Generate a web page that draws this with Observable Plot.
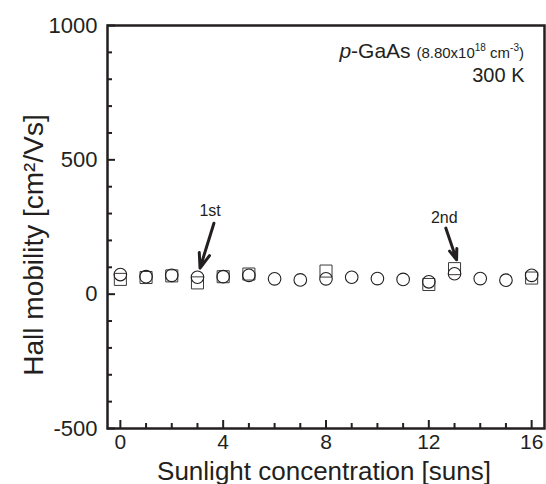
<!DOCTYPE html>
<html>
<head>
<meta charset="utf-8">
<script src="https://cdn.jsdelivr.net/npm/d3@7"></script>
<script src="https://cdn.jsdelivr.net/npm/@observablehq/plot@0.6"></script>
<style>
  body { margin: 0; background: #fff; }
  #chart svg { display: block; }
</style>
</head>
<body>
<div id="chart"></div>
<script>
// ---- data ----
const suns = [0, 1, 2, 3, 4, 5, 6, 7, 8, 9, 10, 11, 12, 13, 14, 15, 16];
const circleMobility = [73, 65, 70, 63, 65, 70, 57, 53, 57, 63, 58, 55, 46, 76, 58, 52, 70];
const squareSuns = [0, 1, 2, 3, 4, 5, 8, 12, 13, 16];
const squareMobility = [55, 62, 68, 42, 65, 75, 86, 36, 95, 60];

const xTicks = [0, 4, 8, 12, 16];
const xMinorTicks = [1, 2, 3, 5, 6, 7, 9, 10, 11, 13, 14, 15];
const yTicks = [-500, 0, 500, 1000];
const yMinorTicks = [-400, -300, -200, -100, 100, 200, 300, 400, 600, 700, 800, 900];

const arrowLabels = ["1st", "2nd"];
const arrowLabelX = [3.49, 12.6];
const arrowLabelY = [309, 283];
const arrowX1 = [3.64, 12.66];
const arrowY1 = [264, 246];
const arrowX2 = [3.1, 13.08];
const arrowY2 = [97, 128];

const xTitle = "Sunlight concentration [suns]";
const yTitle = "Hall mobility [cm²/Vs]";
const tempLabel = "300 K";

// ---- layout ----
const W = 546, H = 484;
const mL = 107, mR = 2, mT = 25, mB = 56;
const plotW = W - mL - mR, plotH = H - mT - mB;
const ink = "#231f20";
const font = "'Liberation Sans', Arial, Helvetica, sans-serif";

const circles = suns.map((s, i) => ({suns: s, mobility: circleMobility[i]}));
const squares = squareSuns.map((s, i) => ({suns: s, mobility: squareMobility[i]}));
const arrows = arrowLabels.map((l, i) => ({
  label: l, lx: arrowLabelX[i], ly: arrowLabelY[i],
  x1: arrowX1[i], y1: arrowY1[i], x2: arrowX2[i], y2: arrowY2[i]
}));

const plot = Plot.plot({
  width: W, height: H,
  marginLeft: mL, marginRight: mR, marginTop: mT, marginBottom: mB,
  style: {fontFamily: font, color: ink, background: "#fff"},
  x: {domain: [-0.5, 16.5]},
  y: {domain: [-500, 1000]},
  marks: [
    // inward ticks
    Plot.tickX(xMinorTicks, {x: d => d, insetTop: plotH - 5, stroke: ink, strokeWidth: 2}),
    Plot.tickX(xTicks, {x: d => d, insetTop: plotH - 8, stroke: ink, strokeWidth: 2}),
    Plot.tickY(yMinorTicks, {y: d => d, insetRight: plotW - 5, stroke: ink, strokeWidth: 2}),
    Plot.tickY(yTicks, {y: d => d, insetRight: plotW - 8, stroke: ink, strokeWidth: 2}),
    Plot.axisX({ticks: xTicks, tickSize: 0, tickPadding: 6, fontSize: 21, label: null, fill: ink, tickFormat: d => String(d)}),
    Plot.axisY({ticks: yTicks, tickSize: 0, tickPadding: 10, fontSize: 22, label: null, fill: ink, tickFormat: d => String(d)}),
    Plot.frame({stroke: ink, strokeWidth: 2.5}),
    // axis titles
    Plot.text([xTitle], {frameAnchor: "bottom", text: d => d, textAnchor: "middle", dy: 51, dx: -2, lineAnchor: "bottom", fontSize: 26, fill: ink}),
    Plot.text([yTitle], {frameAnchor: "left", text: d => d, textAnchor: "middle", dx: -65, dy: 18, rotate: -90, lineAnchor: "bottom", fontSize: 28, fill: ink}),
    // data
    Plot.dot(squares, {x: "suns", y: "mobility", symbol: "square", r: 6.8, stroke: "#3a3a3a", strokeWidth: 1, fill: "none"}),
    Plot.dot(circles, {x: "suns", y: "mobility", symbol: "circle", r: 6.3, stroke: ink, strokeWidth: 1.1, fill: "none"}),
    // annotations
    Plot.arrow(arrows, {x1: "x1", y1: "y1", x2: "x2", y2: "y2", stroke: ink, strokeWidth: 3, headLength: 13, headAngle: 40}),
    Plot.text(arrows, {x: "lx", y: "ly", text: "label", fontSize: 16, fill: ink}),
    Plot.text([tempLabel], {frameAnchor: "top-right", text: d => d, dx: -20, dy: 56, lineAnchor: "bottom", fontSize: 20, fill: ink})
  ]
});

// sample label with italic p and superscripts
const svg = d3.select(plot);
const t = svg.append("text")
  .attr("x", W - mR - 20).attr("y", mT + 33)
  .attr("text-anchor", "end")
  .attr("font-family", font)
  .attr("fill", ink);
t.append("tspan").attr("font-size", 21).attr("font-style", "italic").text("p");
t.append("tspan").attr("font-size", 21).text("-GaAs ");
t.append("tspan").attr("font-size", 15).text("(8.80x10");
t.append("tspan").attr("font-size", 10).attr("dy", -7).text("18");
t.append("tspan").attr("font-size", 15).attr("dy", 7).text(" cm");
t.append("tspan").attr("font-size", 10).attr("dy", -7).text("-3");
t.append("tspan").attr("font-size", 15).attr("dy", 7).text(")");

document.getElementById("chart").appendChild(plot);
</script>
</body>
</html>
